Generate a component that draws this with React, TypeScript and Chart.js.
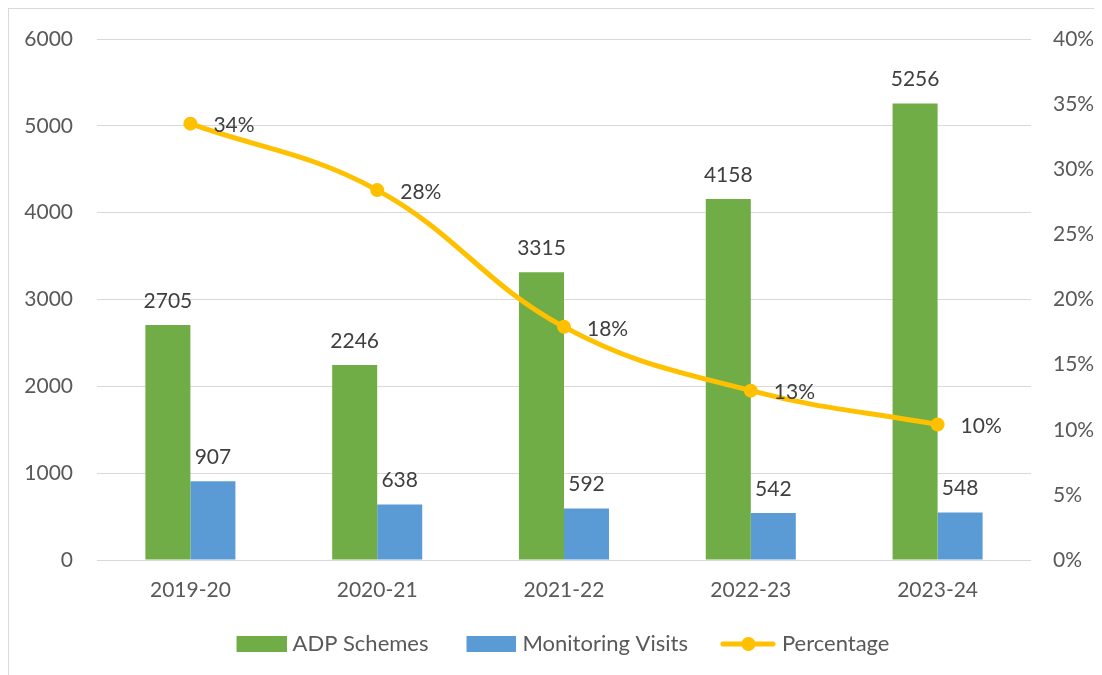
import React, { useEffect, useRef } from "react";
import { Chart, registerables } from "chart.js";

Chart.register(...registerables);

const categories = ["2019-20", "2020-21", "2021-22", "2022-23", "2023-24"];
const adpSchemes = [2705, 2246, 3315, 4158, 5256];
const monitoringVisits = [907, 638, 592, 542, 548];
const percentage = [33.5, 28.4, 17.9, 13.0, 10.4];
const percentLabels = ["34%", "28%", "18%", "13%", "10%"];

const GREEN = "#70AD47";
const BLUE = "#5B9BD5";
const YELLOW = "#FFC000";
const FONT = "Lato, 'Open Sans', sans-serif";

// legend symbol images: 64 wide, symbol occupies the right 50-55 px
function makeBox(color: string) {
  const c = document.createElement("canvas");
  c.width = 64;
  c.height = 16;
  const ctx = c.getContext("2d")!;
  ctx.fillStyle = color;
  ctx.fillRect(14, 0, 50, 16);
  return c;
}

function makeLineSym(color: string) {
  const c = document.createElement("canvas");
  c.width = 64;
  c.height = 16;
  const ctx = c.getContext("2d")!;
  ctx.strokeStyle = color;
  ctx.lineWidth = 5;
  ctx.lineCap = "round";
  ctx.beginPath();
  ctx.moveTo(11, 8);
  ctx.lineTo(61, 8);
  ctx.stroke();
  ctx.fillStyle = color;
  ctx.beginPath();
  ctx.arc(36.5, 8, 7, 0, Math.PI * 2);
  ctx.fill();
  return c;
}

const labelPlugin = {
  id: "valueLabels",
  afterDatasetsDraw(chart: any) {
    const ctx = chart.ctx;
    ctx.save();
    ctx.font = `21px ${FONT}`;
    ctx.fillStyle = "#404040";
    ctx.textBaseline = "middle";
    chart.data.datasets.forEach((ds: any, di: number) => {
      const meta = chart.getDatasetMeta(di);
      meta.data.forEach((el: any, i: number) => {
        if (ds.type === "line") {
          ctx.textAlign = "left";
          ctx.fillText(percentLabels[i], el.x + 23, el.y + 2);
        } else {
          ctx.textAlign = "center";
          ctx.fillText(String(ds.data[i]), el.x, el.y - 24);
        }
      });
    });
    ctx.restore();
  },
};

export default function App() {
  const ref = useRef<HTMLCanvasElement | null>(null);

  useEffect(() => {
    document.documentElement.style.overflow = "hidden";
    if (!ref.current) return;
    const boxG = makeBox(GREEN);
    const boxB = makeBox(BLUE);
    const lineSym = makeLineSym(YELLOW);
    const chart = new Chart(ref.current, {
      type: "bar",
      data: {
        labels: categories,
        datasets: [
          {
            type: "line",
            label: "Percentage",
            data: percentage,
            yAxisID: "y1",
            borderColor: YELLOW,
            backgroundColor: YELLOW,
            borderWidth: 5,
            pointRadius: 7,
            pointBorderWidth: 0,
            pointBackgroundColor: YELLOW,
            tension: 0.4,
            order: 0,
          } as any,
          {
            type: "bar",
            label: "ADP Schemes",
            data: adpSchemes,
            backgroundColor: GREEN,
            yAxisID: "y",
            categoryPercentage: 0.482,
            barPercentage: 1,
            order: 1,
          },
          {
            type: "bar",
            label: "Monitoring Visits",
            data: monitoringVisits,
            backgroundColor: BLUE,
            yAxisID: "y",
            categoryPercentage: 0.482,
            barPercentage: 1,
            order: 1,
          },
        ],
      },
      options: {
        animation: false,
        responsive: true,
        maintainAspectRatio: false,
        layout: { padding: { top: 30, left: 6, right: 0, bottom: 10 } },
        font: { family: FONT },
        scales: {
          x: {
            grid: { display: false, drawTicks: false },
            border: { display: false },
            ticks: { color: "#595959", font: { family: FONT, size: 21 }, padding: 18 },
            afterFit: (s: any) => {
              s.height = 44;
            },
          },
          y: {
            position: "left",
            min: 0,
            max: 6000,
            ticks: {
              stepSize: 1000,
              color: "#595959",
              font: { family: FONT, size: 21 },
              padding: 24,
              callback: (v: any) => String(v),
            },
            grid: { color: "#D9D9D9", lineWidth: 1, drawTicks: false },
            border: { display: false },
            afterFit: (s: any) => {
              s.width = 82;
              s.paddingTop = 0;
              s.paddingBottom = 0;
            },
          },
          y1: {
            position: "right",
            min: 0,
            max: 40,
            ticks: {
              stepSize: 5,
              color: "#595959",
              font: { family: FONT, size: 21 },
              padding: 22,
              callback: (v: any) => v + "%",
            },
            grid: { display: false, drawTicks: false },
            border: { display: false },
            afterFit: (s: any) => {
              s.width = 71;
              s.paddingTop = 0;
              s.paddingBottom = 0;
            },
          },
        },
        plugins: {
          tooltip: { enabled: false },
          legend: {
            position: "bottom",
            labels: {
              color: "#595959",
              font: { family: FONT, size: 22 },
              usePointStyle: true,
              pointStyleWidth: 54,
              boxHeight: 16,
              padding: 29,
              generateLabels: () => [
                { text: "ADP Schemes", pointStyle: boxG, fillStyle: GREEN, strokeStyle: GREEN, lineWidth: 0, datasetIndex: 1, fontColor: "#595959" } as any,
                { text: "Monitoring Visits", pointStyle: boxB, fillStyle: BLUE, strokeStyle: BLUE, lineWidth: 0, datasetIndex: 2, fontColor: "#595959" } as any,
                { text: "Percentage", pointStyle: lineSym, fillStyle: YELLOW, strokeStyle: YELLOW, lineWidth: 0, datasetIndex: 0, fontColor: "#595959" } as any,
              ],
            },
          },
        },
      },
      plugins: [labelPlugin],
    });
    return () => chart.destroy();
  }, []);

  return (
    <div
      style={{
        width: 1094,
        height: 667,
        borderTop: "1px solid #D9D9D9",
        borderLeft: "1px solid #D9D9D9",
        boxSizing: "border-box",
        position: "relative",
        background: "#fff",
      }}
    >
      <canvas ref={ref} />
    </div>
  );
}
